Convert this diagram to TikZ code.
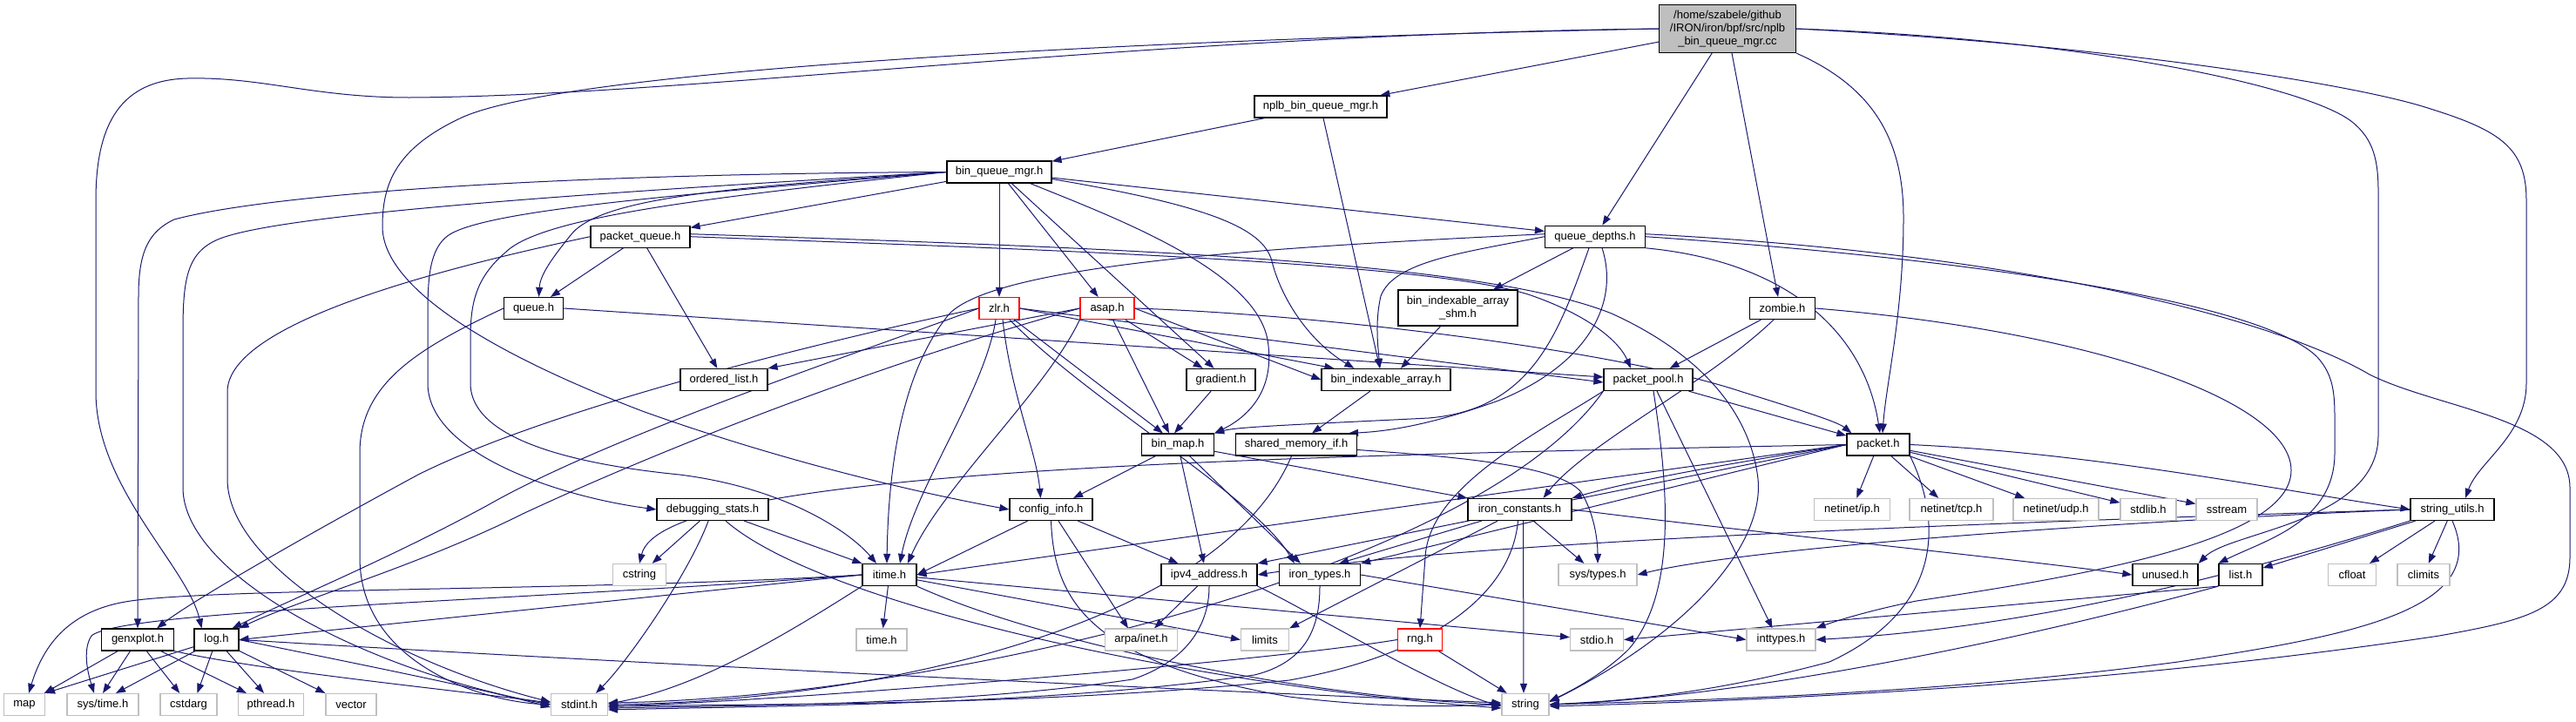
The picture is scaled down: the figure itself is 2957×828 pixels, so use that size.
\documentclass[tikz,border=0pt]{standalone}
\usepackage{fontspec}
\setmainfont{Liberation Sans}
\usetikzlibrary{arrows.meta,backgrounds}
\definecolor{eb}{HTML}{191970}
\definecolor{gb}{HTML}{BFBFBF}
\definecolor{mf}{HTML}{BFBFBF}
\begin{document}
\begin{tikzpicture}[x=1pt,y=-1pt,
  nb/.style={draw=black,line width=1.2pt,fill=white,minimum height=25pt,inner sep=0pt,font=\fontsize{13}{15}\selectfont},
  ng/.style={nb,draw=gb},
  nr/.style={nb,draw=red},
  e/.style={draw=eb,line width=1pt,-{Triangle[length=11pt,width=8pt]}}]
\useasboundingbox (0,0) rectangle (2957,828);
% nodes
\node[nb,fill=mf,minimum width=157pt,minimum height=55pt,align=center] (main) at (1983,33) {/home/szabele/github\\/IRON/iron/bpf/src/nplb\\\_bin\_queue\_mgr.cc};
\node[nb,minimum width=152pt] (nplb) at (1516,122.5) {nplb\_bin\_queue\_mgr.h};
\node[nb,minimum width=120pt] (bqm) at (1147,197.5) {bin\_queue\_mgr.h};
\node[nb,minimum width=114pt] (pq) at (735,271.7) {packet\_queue.h};
\node[nb,minimum width=115pt] (qd) at (1831,271.7) {queue\_depths.h};
\node[nb,minimum width=68pt] (queue) at (612.5,354) {queue.h};
\node[nr,minimum width=46pt] (zlr) at (1147,354) {zlr.h};
\node[nr,minimum width=62pt] (asap) at (1271,354) {asap.h};
\node[nb,minimum width=137pt,minimum height=41pt,align=center] (shm) at (1673.5,353.5) {bin\_indexable\_array\\\_shm.h};
\node[nb,minimum width=75pt] (zombie) at (2046,354) {zombie.h};
\node[nb,minimum width=100pt] (ol) at (831,436) {ordered\_list.h};
\node[nb,minimum width=79pt] (grad) at (1401.5,436) {gradient.h};
\node[nb,minimum width=148pt] (bia) at (1591,436) {bin\_indexable\_array.h};
\node[nb,minimum width=102pt] (pp) at (1892,436) {packet\_pool.h};
\node[nb,minimum width=83pt] (bm) at (1352,510.5) {bin\_map.h};
\node[nb,minimum width=139pt] (smi) at (1488,510.5) {shared\_memory\_if.h};
\node[nb,minimum width=72pt] (packet) at (2156,510.5) {packet.h};
\node[nb,minimum width=128pt] (dbg) at (818,585) {debugging\_stats.h};
\node[nb,minimum width=95pt] (ci) at (1206.5,585) {config\_info.h};
\node[nb,minimum width=119pt] (ic) at (1744.5,585) {iron\_constants.h};
\node[ng,minimum width=87pt] (nip) at (2126,585) {netinet/ip.h};
\node[ng,minimum width=96pt] (ntcp) at (2240,585) {netinet/tcp.h};
\node[ng,minimum width=98pt] (nudp) at (2360,585) {netinet/udp.h};
\node[ng,minimum width=64pt] (stdlib) at (2466,585) {stdlib.h};
\node[ng,minimum width=70pt] (sstream) at (2556,585) {sstream};
\node[nb,minimum width=96pt] (su) at (2815,585) {string\_utils.h};
\node[ng,minimum width=61pt] (cstring) at (734,660) {cstring};
\node[nb,minimum width=62pt] (itime) at (1021,660) {itime.h};
\node[nb,minimum width=110pt] (ipv4) at (1388,660) {ipv4\_address.h};
\node[nb,minimum width=93pt] (it) at (1515,660) {iron\_types.h};
\node[ng,minimum width=90pt] (systypes) at (1834,660) {sys/types.h};
\node[nb,minimum width=75pt] (unused) at (2485.5,660) {unused.h};
\node[nb,minimum width=50pt] (list) at (2572,660) {list.h};
\node[ng,minimum width=55pt] (cfloat) at (2700,660) {cfloat};
\node[ng,minimum width=60pt] (climits) at (2782,660) {climits};
\node[nb,minimum width=83pt] (genx) at (158,734.5) {genxplot.h};
\node[nb,minimum width=51pt] (log) at (248.5,734.5) {log.h};
\node[ng,minimum width=58pt] (timeh) at (1012,734.5) {time.h};
\node[ng,minimum width=83pt] (arpa) at (1310,734.5) {arpa/inet.h};
\node[ng,minimum width=55pt] (limits) at (1452,734.5) {limits};
\node[nr,minimum width=51pt] (rng) at (1630,734.5) {rng.h};
\node[ng,minimum width=61pt] (stdio) at (1833,734.5) {stdio.h};
\node[ng,minimum width=79pt] (inttypes) at (2044.5,734.5) {inttypes.h};
\node[ng,minimum width=47pt] (map) at (28,809) {map};
\node[ng,minimum width=82pt] (systime) at (118,809) {sys/time.h};
\node[ng,minimum width=65pt] (cstdarg) at (216.5,809) {cstdarg};
\node[ng,minimum width=75pt] (pthread) at (311,809) {pthread.h};
\node[ng,minimum width=58pt] (vector) at (403,809) {vector};
\node[ng,minimum width=65pt] (stdint) at (665,809) {stdint.h};
\node[ng,minimum width=54pt] (string) at (1751,809) {string};
\begin{scope}[on background layer]
\fill[white] (0,0) rectangle (2957,828);
% main
\draw[e] (main) -- (nplb);
\draw[e] (main) -- (qd);
\draw[e] ([xshift=5pt]main.south) -- ([xshift=-5pt]zombie.north);
\draw[e] (main.south east) .. controls (2150,100) and (2185,160) .. (2185,250) .. controls (2185,360) and (2165,440) .. ([xshift=5pt]packet.north);
\draw[e] (main.west) .. controls (1300,40) and (800,110) .. (470,112) .. controls (360,112) and (300,88) .. (215,90) .. controls (140,92) and (110,140) .. (110,230) -- (110,450) .. controls (110,560) and (215,650) .. ([xshift=-17pt]log.north);
\draw[e] (main.west) .. controls (1300,45) and (650,80) .. (530,135) .. controls (455,170) and (439,210) .. (439,260) .. controls (439,340) and (600,420) .. (740,473) .. controls (900,530) and (1050,565) .. (ci.west);
\draw[e] (main.east) .. controls (2400,50) and (2700,95) .. (2790,125) .. controls (2870,150) and (2900,170) .. (2900,230) -- (2900,440) .. controls (2900,500) and (2845,530) .. ([xshift=15pt]su.north);
\draw[e] (main.east) .. controls (2400,45) and (2650,100) .. (2700,140) .. controls (2725,160) and (2730,185) .. (2730,220) -- (2730,500) .. controls (2730,600) and (2560,610) .. (unused.north east);
% nplb
\draw[e] (nplb) -- (bqm);
\draw[e] ([xshift=3pt]nplb.south) -- ([xshift=-7pt]bia.north);
% bqm
\draw[e] (bqm) -- (pq);
\draw[e] (bqm.west) .. controls (850,215) and (690,225) .. (655,270) .. controls (635,295) and (620,315) .. ([xshift=6pt]queue.north);
\draw[e] (bqm) -- (zlr);
\draw[e] (bqm) -- (asap);
\draw[e] (bqm) -- ([xshift=-8pt]grad.north);
\draw[e] ([xshift=-25pt]bqm.south east) .. controls (1280,250) and (1440,310) .. (1455,390) .. controls (1465,450) and (1430,480) .. (bm.north east);
\draw[e] (bqm) -- (qd);
\draw[e] ([yshift=-8pt]bqm.east) .. controls (1380,235) and (1450,260) .. (1460,300) .. controls (1470,340) and (1500,390) .. ([xshift=38pt]bia.north west);
\draw[e] (bqm.west) .. controls (600,200) and (300,225) .. (200,252) .. controls (170,266) and (159,290) .. (159,340) -- (genx.north);
\draw[e] (bqm.west) .. controls (700,220) and (320,245) .. (250,275) .. controls (215,290) and (210,320) .. (210,380) -- (210,560) .. controls (210,660) and (420,770) .. (stdint.west);
\draw[e] (bqm.west) .. controls (800,222) and (560,240) .. (515,270) .. controls (493,285) and (491,320) .. (491,360) -- (491,440) .. controls (491,520) and (640,570) .. (dbg.west);
\draw[e] (bqm.west) .. controls (800,228) and (620,250) .. (580,290) .. controls (545,320) and (540,350) .. (540,390) -- (540,440) .. controls (540,510) and (680,535) .. (780,545) .. controls (900,560) and (975,610) .. ([xshift=-15pt]itime.north);
% pq
\draw[e] (pq) -- (queue);
\draw[e] (pq) -- (ol);
\draw[e] (pq.east) .. controls (1150,285) and (1650,300) .. (1760,340) .. controls (1830,365) and (1860,395) .. ([xshift=-20pt]pp.north);
\draw[e] (pq.west) .. controls (450,320) and (261,380) .. (261,450) -- (261,550) .. controls (261,650) and (450,760) .. ([yshift=3pt]stdint.west);
\draw[e] ([yshift=3pt]pq.east) .. controls (1300,285) and (1700,300) .. (1850,360) .. controls (1960,410) and (2010,480) .. (2018,550) .. controls (2025,620) and (1950,720) .. ([yshift=3pt]string.east);
% queue
\draw[e] (queue.east) -- ([yshift=3pt]pp.west);
\draw[e] (queue.west) .. controls (480,400) and (413,440) .. (413,520) -- (413,640) .. controls (413,760) and (550,805) .. (stdint.west);
% zlr
\draw[e] (zlr.west) .. controls (1000,380) and (650,460) .. (480,545) .. controls (360,610) and (220,690) .. ([xshift=-20pt]genx.north east);
\draw[e] (zlr.west) .. controls (1000,400) and (700,500) .. (560,580) .. controls (450,640) and (330,690) .. ([xshift=-8pt]log.north east);
\draw[e] (zlr) -- (bm);
\draw[e] ([xshift=-4pt]zlr.south) .. controls (1130,450) and (1050,560) .. ([xshift=12pt]itime.north);
\draw[e] ([xshift=4pt]zlr.south) .. controls (1160,450) and (1190,520) .. ([xshift=-12pt]ci.north);
\draw[e] (zlr.east) -- ([xshift=15pt]bia.north west);
\draw[e] (zlr.east) -- ([yshift=-3pt]pp.west);
\draw[e] ([xshift=12pt]zlr.south) .. controls (1250,460) and (1440,570) .. ([xshift=18pt]it.north west);
% asap
\draw[e] (asap.west) -- (ol.north east);
\draw[e] (asap.west) .. controls (1000,420) and (750,520) .. (600,590) .. controls (480,650) and (340,690) .. (log.north east);
\draw[e] (asap) -- (grad);
\draw[e] (asap) -- ([xshift=-10pt]bm.north);
\draw[e] (asap.east) .. controls (1500,360) and (1850,400) .. (2000,450) .. controls (2080,475) and (2110,485) .. ([xshift=6pt]packet.north west);
\draw[e] (asap.east) -- (bia.west);
\draw[e] (asap.south west) .. controls (1200,450) and (1080,560) .. ([xshift=21pt]itime.north);
% grad
\draw[e] (grad) -- ([xshift=-4pt]bm.north);
% qd
\draw[e] (qd) -- (shm);
\draw[e] (qd.west) .. controls (1680,290) and (1600,300) .. (1585,340) .. controls (1578,370) and (1582,400) .. ([xshift=-7pt]bia.north);
\draw[e] (qd.south east) .. controls (2050,300) and (2140,380) .. ([xshift=2pt]packet.north);
\draw[e] ([yshift=3pt]qd.west) .. controls (1500,282) and (1150,300) .. (1090,360) .. controls (1040,420) and (1020,520) .. ([xshift=-3pt]itime.north);
\draw[e] ([xshift=-7pt]qd.south) .. controls (1790,380) and (1760,470) .. (1640,480) .. controls (1500,487) and (1420,490) .. (bm.north east);
\draw[e] ([xshift=8pt]qd.south) .. controls (1860,350) and (1820,420) .. (1720,460) .. controls (1650,485) and (1600,495) .. ([xshift=-10pt]smi.north east);
\draw[e] ([yshift=3pt]qd.east) .. controls (2300,290) and (2600,360) .. (2720,430) .. controls (2800,470) and (2950,480) .. (2950,560) -- (2950,640) .. controls (2950,700) and (2900,712) .. (2800,730) .. controls (2400,790) and (2000,805) .. ([yshift=-2pt]string.east);
\draw[e] (qd.east) .. controls (2300,300) and (2600,350) .. (2660,410) .. controls (2678,430) and (2680,450) .. (2680,480) -- (2680,520) .. controls (2680,600) and (2600,620) .. (list.north west);
% zombie
\draw[e] (zombie) -- (pp);
\draw[e] ([xshift=-10pt]zombie.south) .. controls (1960,440) and (1820,510) .. ([xshift=27pt]ic.north);
\draw[e] (zombie.east) .. controls (2400,380) and (2630,460) .. (2630,540) .. controls (2630,620) and (2400,660) .. (2200,690) .. controls (2150,700) and (2110,712) .. (inttypes.north east);
% shm, bia
\draw[e] (shm) -- ([xshift=17pt]bia.north);
\draw[e] (bia) -- (smi);
% bm
\draw[e] (bm) -- (ci);
\draw[e] (bm) -- ([xshift=-6pt]ipv4.north);
\draw[e] (bm) -- ([xshift=25pt]it.north west);
\draw[e] (bm) -- (ic.north west);
% smi
\draw[e] ([yshift=-6pt]smi.east) .. controls (1680,525) and (1790,535) .. (1815,565) .. controls (1830,590) and (1834,620) .. (systypes.north);
\draw[e] (smi) .. controls (1400,720) and (1000,805) .. (stdint.east);
% pp
\draw[e] (pp) -- (packet);
\draw[e] (pp.south west) .. controls (1760,500) and (1640,560) .. (1636,640) -- (rng.north);
\draw[e] ([xshift=6pt]pp.south) .. controls (1915,560) and (1925,680) .. (1870,745) .. controls (1840,775) and (1800,795) .. ([yshift=4pt]string.east);
\draw[e] ([xshift=10pt]pp.south) -- ([xshift=-10pt]inttypes.north);
\draw[e] (pp.south west) .. controls (1700,650) and (1100,800) .. ([yshift=2pt]stdint.east);
% packet
\draw[e] (packet) -- (nip);
\draw[e] (packet) -- (ntcp);
\draw[e] (packet) -- (nudp);
\draw[e] (packet) -- (stdlib);
\draw[e] (packet) -- (sstream);
\draw[e] (packet.east) .. controls (2400,520) and (2600,560) .. (su.west);
\draw[e] (packet.west) .. controls (2000,530) and (1880,550) .. (ic.north east);
\draw[e] (packet.west) -- (itime.east);
\draw[e] (packet.west) -- (ipv4.north east);
\draw[e] (packet.west) -- (it.north east);
\draw[e] (packet.west) .. controls (1400,525) and (760,540) .. (cstring.north);
\draw[e] (packet.south east) .. controls (2230,600) and (2230,700) .. (2100,760) .. controls (1950,800) and (1850,805) .. (string.east);
% dbg
\draw[e] (dbg) -- (cstring);
\draw[e] (dbg) -- (itime.north west);
\draw[e] (dbg) .. controls (790,660) and (720,760) .. ([xshift=19pt]stdint.north);
\draw[e] (dbg) .. controls (950,700) and (1400,790) .. ([yshift=-4pt]string.west);
% ci
\draw[e] (ci) -- (itime.east);
\draw[e] (ci) -- ([xshift=20pt]ipv4.north west);
\draw[e] (ci) -- ([xshift=-15pt]arpa.north);
\draw[e] (ci.south) .. controls (1210,690) and (1250,760) .. (1480,800) .. controls (1600,815) and (1680,810) .. (string.west);
% ic
\draw[e] (ic) -- ([xshift=-25pt]it.north east);
\draw[e] (ic) -- (systypes);
\draw[e] (ic.east) .. controls (2000,610) and (2300,640) .. (unused.west);
\draw[e] ([xshift=-2pt]ic.south) .. controls (1735,680) and (1650,750) .. (1480,781) .. controls (1200,810) and (900,808) .. ([yshift=-2pt]stdint.east);
\draw[e] ([xshift=4pt]ic.south) -- ([xshift=-2pt]string.north);
\draw[e] (ic) -- (limits.north east);
% ipv4
\draw[e] (ipv4) -- ([xshift=15pt]arpa.north);
\draw[e] (ipv4.south) .. controls (1388,720) and (1360,760) .. (1300,780) .. controls (1100,810) and (850,810) .. ([yshift=-4pt]stdint.east);
\draw[e] (ipv4.south east) .. controls (1500,700) and (1650,790) .. ([yshift=-2pt]string.west);
% it
\draw[e] (it.south) .. controls (1515,720) and (1500,760) .. (1440,775) .. controls (1200,810) and (900,810) .. ([yshift=-6pt]stdint.east);
\draw[e] (it.east) -- (inttypes.west);
% rng
\draw[e] (rng.west) .. controls (1450,760) and (900,805) .. ([yshift=-2pt]stdint.east);
\draw[e] (rng) -- (string);
% itime
\draw[e] (itime) -- (timeh);
\draw[e] (itime) -- (limits.west);
\draw[e] (itime.west) .. controls (700,678) and (250,675) .. (150,690) .. controls (80,700) and (50,740) .. ([xshift=5pt]map.north);
\draw[e] (itime.west) -- (log.east);
\draw[e] (itime.west) .. controls (600,690) and (140,700) .. (105,730) .. controls (95,745) and (100,770) .. ([xshift=-10pt]systime.north);
\draw[e] (itime.south west) .. controls (900,730) and (800,790) .. ([yshift=1pt]stdint.east);
\draw[e] (itime.south east) .. controls (1200,740) and (1500,800) .. (string.west);
\draw[e] (itime) -- (stdio);
% su
\draw[e] (su) -- (list);
\draw[e] (su) -- (cfloat);
\draw[e] (su) -- (climits);
\draw[e] (su.south west) .. controls (2600,650) and (2350,720) .. (inttypes.east);
\draw[e] (su.west) .. controls (2400,600) and (2000,630) .. (systypes.east);
\draw[e] (su.west) .. controls (2300,600) and (1700,620) .. (ipv4.east);
\draw[e] (su.south) .. controls (2860,700) and (2700,730) .. (2500,760) .. controls (2200,800) and (1900,805) .. (string.east);
% list
\draw[e] (list.south west) -- (stdio.east);
\draw[e] (list.south west) .. controls (2300,740) and (2000,800) .. (string.east);
% genx
\draw[e] (genx) -- (map);
\draw[e] (genx) -- (systime.north);
\draw[e] (genx) -- (cstdarg);
\draw[e] (genx) -- ([xshift=10pt]pthread.north west);
\draw[e] (genx.south east) .. controls (300,770) and (500,790) .. ([yshift=2pt]stdint.west);
% log
\draw[e] (log) -- (map.north east);
\draw[e] (log) -- ([xshift=15pt]systime.north);
\draw[e] (log) -- ([xshift=10pt]cstdarg.north);
\draw[e] (log) -- ([xshift=-8pt]pthread.north);
\draw[e] (log) -- (vector.north west);
\draw[e] (log.east) .. controls (400,760) and (550,790) .. ([yshift=-3pt]stdint.west);
\draw[e] (log.east) .. controls (700,760) and (1300,790) .. ([yshift=2pt]string.west);
\end{scope}
\end{tikzpicture}
\end{document}
